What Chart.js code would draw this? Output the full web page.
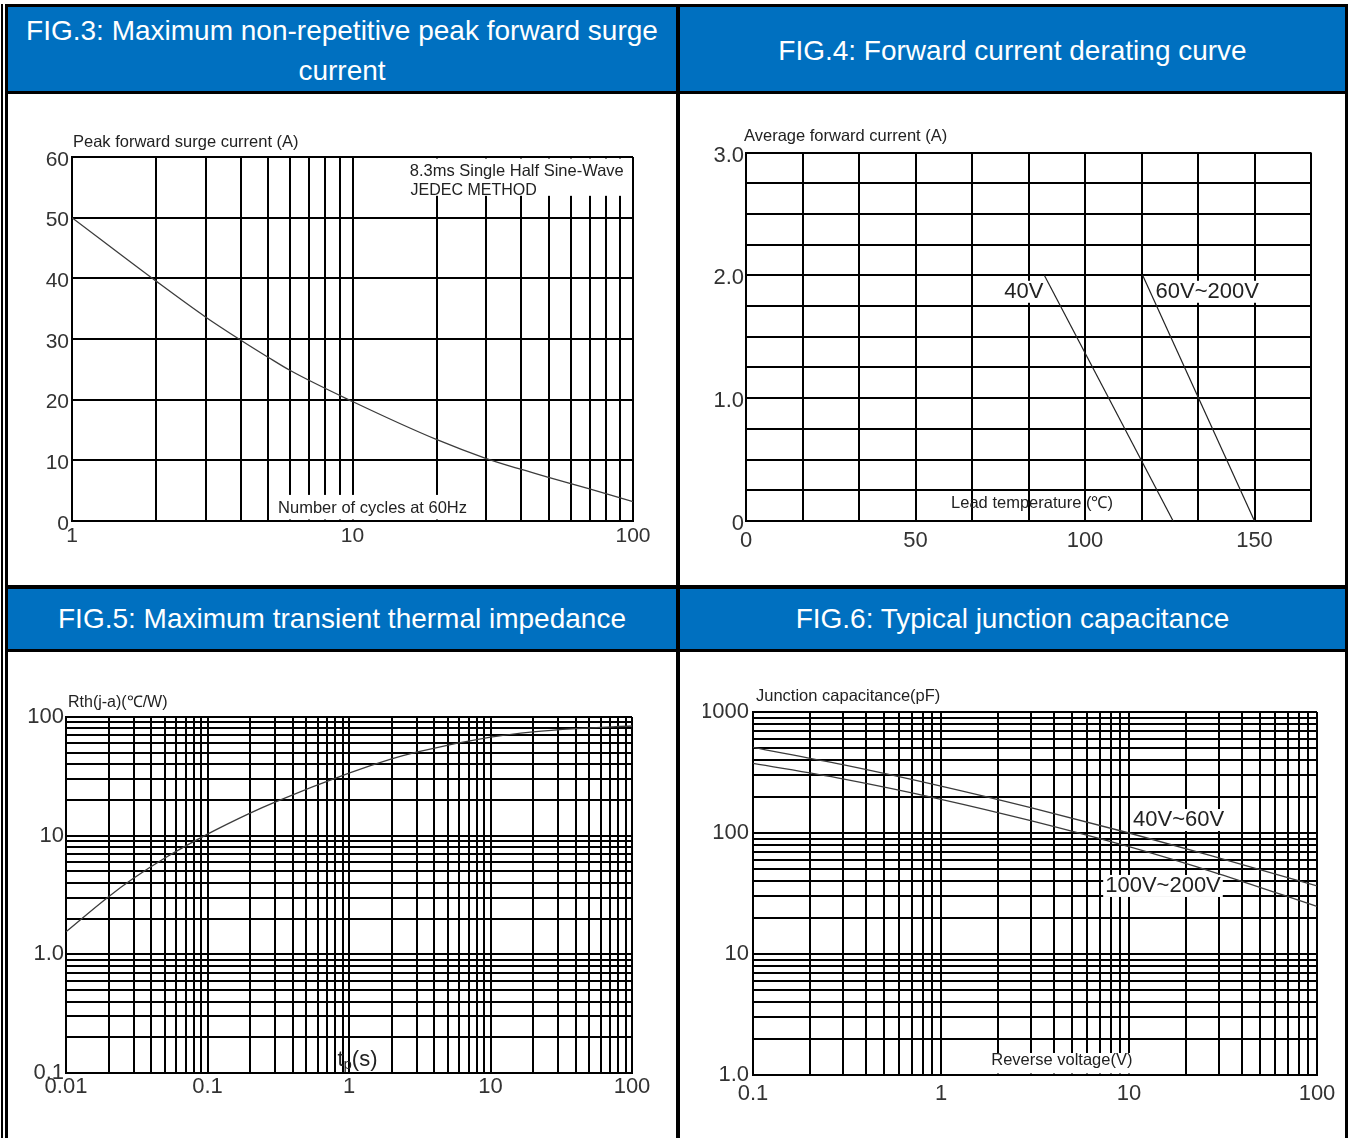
<!DOCTYPE html>
<html>
<head>
<meta charset="utf-8">
<script src="https://cdn.jsdelivr.net/npm/chart.js@4.4.1/dist/chart.umd.min.js"></script>
<style>
  html, body { margin: 0; padding: 0; background: #fff; }
  body { width: 1348px; height: 1138px; position: relative; overflow: hidden; font-family: 'Liberation Sans', Arial, sans-serif; }
  .rule { position: absolute; background: #000; }
  .cell { position: absolute; }
  .head { background: #0070c0; color: #fff; font-size: 28px; line-height: 40px; text-align: center; white-space: nowrap;
          display: flex; align-items: center; justify-content: center; box-sizing: border-box; padding-top: 4px; }
  .panel { background: #fff; }
  canvas { position: absolute; display: block; }
</style>
</head>
<body>
<div class="rule" style="left:1px;top:4px;width:2px;height:1134px"></div>
<div class="rule" style="left:5px;top:4px;width:1343px;height:1134px"></div>

<div class="cell head" style="left:8px;top:7px;width:668px;height:84px"><div>FIG.3: Maximum non-repetitive peak forward surge<br>current</div></div>
<div class="cell head" style="left:680px;top:7px;width:665px;height:84px"><div>FIG.4: Forward current derating curve</div></div>
<div class="cell panel" style="left:8px;top:94px;width:668px;height:491px"></div>
<div class="cell panel" style="left:680px;top:94px;width:665px;height:491px"></div>
<div class="cell head" style="left:8px;top:589px;width:668px;height:60px;padding-top:0"><div>FIG.5: Maximum transient thermal impedance</div></div>
<div class="cell head" style="left:680px;top:589px;width:665px;height:60px;padding-top:0"><div>FIG.6: Typical junction capacitance</div></div>
<div class="cell panel" style="left:8px;top:652px;width:668px;height:486px"></div>
<div class="cell panel" style="left:680px;top:652px;width:665px;height:486px"></div>

<canvas id="fig3" width="668" height="491" style="left:8px;top:94px"></canvas>
<canvas id="fig4" width="665" height="491" style="left:680px;top:94px"></canvas>
<canvas id="fig5" width="668" height="486" style="left:8px;top:652px"></canvas>
<canvas id="fig6" width="665" height="486" style="left:680px;top:652px"></canvas>

<script>
const FONT = "'Liberation Sans', Arial, sans-serif";
Chart.defaults.font.family = FONT;
Chart.defaults.color = '#333';

// FIG.3 peak forward surge current vs number of cycles
const surgeCycles = [1, 2, 3, 4, 5, 6, 10, 20, 30, 40, 50, 70, 100];
const surgeAmps = [50, 39.5, 33.6, 29.8, 27.0, 24.8, 19.7, 13.4, 10.3, 8.5, 7.2, 5.3, 3.2];
const surgeXTicks = [1, 10, 100];
const surgeXLabels = ['1', '10', '100'];
const surgeYTicks = [0, 10, 20, 30, 40, 50, 60];
const surgeYLabels = ['0', '10', '20', '30', '40', '50', '60'];

// FIG.4 derating
const derateTemp40 = [88, 126];
const derateAmps40 = [2.0, 0];
const derateTemp60 = [117, 150];
const derateAmps60 = [2.0, 0];
const derateXTicks = [0, 50, 100, 150];
const derateXLabels = ['0', '50', '100', '150'];
const derateYTicks = [0, 1, 2, 3];
const derateYLabels = ['0', '1.0', '2.0', '3.0'];

// FIG.5 transient thermal impedance
const pulseTime = [0.01, 0.02, 0.03, 0.05, 0.1, 0.2, 0.3, 1, 2, 3, 10, 20, 40, 100];
const thermalZ = [1.55, 3.06, 4.37, 6.48, 10.3, 15.5, 19.2, 33.6, 44.3, 50.6, 67.6, 75.0, 79.8, 84];
const thermalXTicks = [0.01, 0.1, 1, 10, 100];
const thermalXLabels = ['0.01', '0.1', '1', '10', '100'];
const thermalYTicks = [0.1, 1, 10, 100];
const thermalYLabels = ['0.1', '1.0', '10', '100'];

// FIG.6 junction capacitance
const reverseVolt = [0.1, 0.3, 1, 3, 10, 30, 100];
const cap40to60 = [510, 367, 244, 162, 100, 62.3, 36.5];
const cap100to200 = [376, 280, 190, 126.5, 77, 46, 24.7];
const capXTicks = [0.1, 1, 10, 100];
const capXLabels = ['0.1', '1', '10', '100'];
const capYTicks = [1, 10, 100, 1000];
const capYLabels = ['1.0', '10', '100', '1000'];

function logGrid(lo, hi) {
  const out = [];
  for (let e = Math.round(Math.log10(lo)); e < Math.round(Math.log10(hi)); e++)
    for (let m = 1; m < 10; m++) out.push(+(m * Math.pow(10, e)).toPrecision(3));
  out.push(hi);
  return out;
}
function stepGrid(n, step) {
  return Array.from({ length: n + 1 }, (_, i) => (i * step[0]) / step[1]);
}
function tickLabel(ticks, labels) {
  return v => {
    const i = ticks.findIndex(t => Math.abs(t - v) <= Math.abs(t) * 1e-6 + 1e-9);
    return i < 0 ? '' : labels[i];
  };
}
function pts(xs, ys) {
  return xs.map((x, i) => ({ x, y: ys[i] }));
}

function axis(type, min, max, grid, ticks, labels, o) {
  return {
    type, min, max,
    afterBuildTicks: s => { s.ticks = grid.map(v => ({ value: v })); },
    afterFit: s => { if (s.isHorizontal()) s.height = 40; else s.width = 50; },
    grid: { color: '#000', lineWidth: 2, drawTicks: false },
    border: { color: '#000', width: 2 },
    ticks: { autoSkip: false, maxRotation: 0, padding: o.pad, labelOffset: o.shift || 0, color: '#333', font: { size: o.size },
             callback: tickLabel(ticks, labels) }
  };
}

function place(chart, n) {
  const a = chart.chartArea;
  if (n.corner) return { x: a.left + n.dx, y: a.top + n.dy };
  return { x: chart.scales.x.getPixelForValue(n.x), y: chart.scales.y.getPixelForValue(n.y) };
}
function parts(n) { return n.parts || [{ t: n.text }]; }
function partFont(n, p) { return (p.sub ? n.size * 0.68 : n.size) + 'px ' + FONT; }
function textWidth(ctx, n) {
  return parts(n).reduce((w, p) => { ctx.font = partFont(n, p); return w + ctx.measureText(p.t).width; }, 0);
}

const notesPlugin = {
  id: 'notes',
  beforeDatasetsDraw(chart, args, opts) {
    const { ctx, chartArea: a, scales } = chart;
    ctx.save();
    ctx.fillStyle = '#fff';
    for (const g of opts.gaps || []) {
      const l = Math.max(scales.x.getPixelForValue(g.x0), a.left + 1.5);
      const r = Math.min(scales.x.getPixelForValue(g.x1), a.right - 1.5);
      const t = Math.max(scales.y.getPixelForValue(g.y1), a.top + 1.5);
      const b = Math.min(scales.y.getPixelForValue(g.y0), a.bottom - 1.5);
      ctx.fillRect(l, t, r - l, b - t);
    }
    for (const n of opts.items || []) {
      if (!n.bg) continue;
      const p = place(chart, n);
      const w = textWidth(ctx, n);
      const l = n.align === 'right' ? p.x - w : p.x;
      ctx.fillRect(l - 2, p.y - n.size * 0.5, w + 4, n.size);
    }
    ctx.restore();
  },
  afterDatasetsDraw(chart, args, opts) {
    const ctx = chart.ctx;
    ctx.save();
    ctx.fillStyle = '#222';
    ctx.textBaseline = 'middle';
    ctx.textAlign = 'left';
    for (const n of opts.items || []) {
      const p = place(chart, n);
      let x = n.align === 'right' ? p.x - textWidth(ctx, n) : p.x;
      for (const s of parts(n)) {
        ctx.font = partFont(n, s);
        ctx.fillText(s.t, x, s.sub ? p.y + n.size * 0.22 : p.y);
        x += ctx.measureText(s.t).width;
      }
    }
    ctx.restore();
  }
};

function lineSet(data, o) {
  return Object.assign({ data, borderColor: '#3c3c3c', borderWidth: 1.3, pointRadius: 0, fill: false,
                         cubicInterpolationMode: 'monotone' }, o || {});
}

function makeChart(id, datasets, scales, padding, notes) {
  return new Chart(document.getElementById(id), {
    type: 'line',
    data: { datasets },
    options: {
      responsive: false,
      animation: false,
      devicePixelRatio: 1,
      layout: { padding },
      scales,
      plugins: { legend: { display: false }, tooltip: { enabled: false }, notes }
    },
    plugins: [notesPlugin]
  });
}

makeChart('fig3',
  [lineSet(pts(surgeCycles, surgeAmps))],
  {
    x: axis('logarithmic', 1, 100, logGrid(1, 100), surgeXTicks, surgeXLabels, { size: 21, pad: 3 }),
    y: axis('linear', 0, 60, surgeYTicks, surgeYTicks, surgeYLabels, { size: 21, pad: 3, shift: 3 })
  },
  { left: 14, right: 43, top: 63, bottom: 24 },
  {
    gaps: [{ x0: 15.3, x1: 100, y0: 53.6, y1: 60 }, { x0: 5.3, x1: 26, y0: 0, y1: 4.3 }],
    items: [
      { text: 'Peak forward surge current (A)', corner: true, dx: 1, dy: -15, size: 16.5 },
      { text: '8.3ms Single Half Sine-Wave', x: 16, y: 57.7, size: 16.5 },
      { text: 'JEDEC METHOD', x: 16.1, y: 54.5, size: 16 },
      { text: 'Number of cycles at 60Hz', x: 5.43, y: 2.15, size: 16.5 }
    ]
  });

makeChart('fig4',
  [lineSet(pts(derateTemp40, derateAmps40), { tension: 0, cubicInterpolationMode: 'default', borderWidth: 1.2, borderColor: '#222' }),
   lineSet(pts(derateTemp60, derateAmps60), { tension: 0, cubicInterpolationMode: 'default', borderWidth: 1.2, borderColor: '#222' })],
  {
    x: axis('linear', 0, 500 / 3, stepGrid(10, [50, 3]), derateXTicks, derateXLabels, { size: 22, pad: 7 }),
    y: axis('linear', 0, 3, stepGrid(12, [1, 4]), derateYTicks, derateYLabels, { size: 22, pad: 2, shift: 3 })
  },
  { left: 16, right: 34, top: 58.5, bottom: 24 },
  {
    items: [
      { text: 'Average forward current (A)', corner: true, dx: -2, dy: -16.5, size: 16.5 },
      { text: '40V', x: 87.7, y: 1.866, size: 22, align: 'right', bg: true },
      { text: '60V~200V', x: 120.8, y: 1.866, size: 22, bg: true },
      { text: 'Lead temperature (℃)', x: 60.5, y: 0.139, size: 16.5 }
    ]
  });

makeChart('fig5',
  [lineSet(pts(pulseTime, thermalZ))],
  {
    x: axis('logarithmic', 0.01, 100, logGrid(0.01, 100), thermalXTicks, thermalXLabels, { size: 22, pad: 1 }),
    y: axis('logarithmic', 0.1, 100, logGrid(0.1, 100), thermalYTicks, thermalYLabels, { size: 22, pad: 2 })
  },
  { left: 8, right: 44, top: 65, bottom: 25 },
  {
    items: [
      { text: 'Rth(j-a)(℃/W)', corner: true, dx: 2, dy: -14, size: 16 },
      { parts: [{ t: 't' }, { t: 'p', sub: true }, { t: '(s)' }], x: 0.828, y: 0.129, size: 22 }
    ]
  });

makeChart('fig6',
  [lineSet(pts(reverseVolt, cap40to60)), lineSet(pts(reverseVolt, cap100to200))],
  {
    x: axis('logarithmic', 0.1, 100, logGrid(0.1, 100), capXTicks, capXLabels, { size: 22, pad: 6 }),
    y: axis('logarithmic', 1, 1000, logGrid(1, 1000), capYTicks, capYLabels, { size: 22, pad: 4 })
  },
  { left: 23, right: 28, top: 60, bottom: 23 },
  {
    gaps: [{ x0: 1.5, x1: 15, y0: 1, y1: 1.52 }],
    items: [
      { text: 'Junction capacitance(pF)', corner: true, dx: 3, dy: -16, size: 16.5 },
      { text: '40V~60V', x: 10.5, y: 128, size: 22, bg: true },
      { text: '100V~200V', x: 7.47, y: 36.5, size: 22, bg: true },
      { text: 'Reverse voltage(V)', x: 1.85, y: 1.31, size: 16.5 }
    ]
  });
</script>
</body>
</html>
